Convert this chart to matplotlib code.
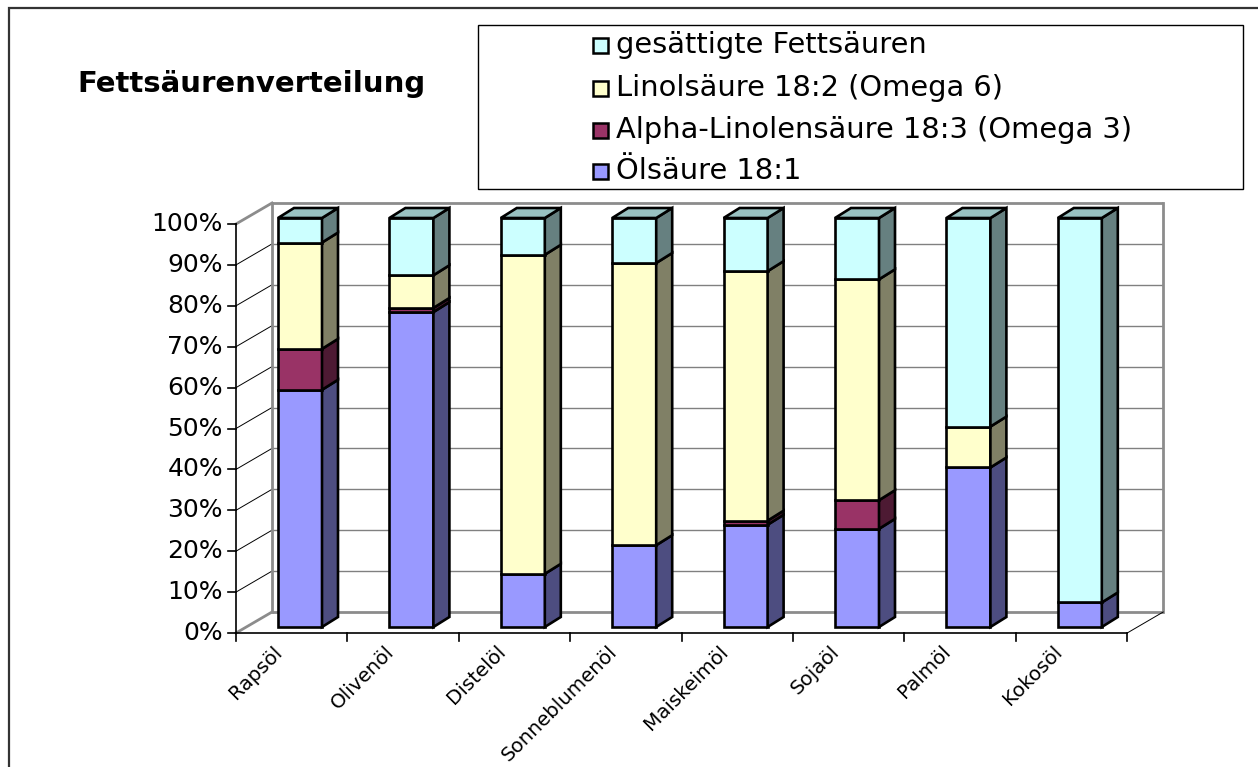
import numpy as np
import matplotlib.pyplot as plt
from matplotlib.patches import Polygon, Rectangle

# Fettsäurenanteile je Öl in Prozent
oele = ['Rapsöl', 'Olivenöl', 'Distelöl', 'Sonneblumenöl',
        'Maiskeimöl', 'Sojaöl', 'Palmöl', 'Kokosöl']
oelsaeure = [58, 77, 13, 20, 25, 24, 39, 6]
alpha_linolen = [10, 1, 0, 0, 1, 7, 0, 0]
linolsaeure = [26, 8, 78, 69, 61, 54, 10, 0]
gesaettigt = [6, 14, 9, 11, 13, 15, 51, 94]

reihen = ['Ölsäure 18:1', 'Alpha-Linolensäure 18:3 (Omega 3)',
          'Linolsäure 18:2 (Omega 6)', 'gesättigte Fettsäuren']
y_ticks = list(range(0, 101, 10))

# Farben: Vorderseite, Seitenfläche, Deckfläche
farben = [('#9999FF', '#4D4D80', '#7373BF'),
          ('#993366', '#4D1A33', '#73264D'),
          ('#FFFFCC', '#808066', '#BFBF99'),
          ('#CCFFFF', '#668080', '#99C2C2')]

W, H = 1258, 767
X0, Y0 = 236, 633          # Ursprung der Achsen in Pixeln
SX, SY = 111.4, 4.09       # Pixel pro Kategorie / pro Prozent

fig = plt.figure(figsize=(W / 100, H / 100), dpi=100)
ax = fig.add_axes([0, 0, 1, 1])
ax.set_xlim(-X0 / SX, (W - X0) / SX)
ax.set_ylim(-(H - Y0) / SY, Y0 / SY)
ax.axis('off')

n = len(oele)
# Tiefe der Bodenfläche und der Säulen (Schrägprojektion)
DX, DY = 36 / SX, 21 / SY
BX, BY = 16 / SX, 10 / SY
bar_off, bar_w, bar_y0 = 42 / SX, 44 / SX, 6 / SY

grau = '#8C8C8C'
kante = 1.9

# Rückwand mit Gitterlinien
for v in y_ticks:
    rand = v in (0, 100)
    ax.plot([DX, n + DX], [v + DY, v + DY], color=grau if rand else '#808080',
            lw=2.0 if rand else 1.0, zorder=1, solid_capstyle='butt')
    # Linien auf der linken Seitenwand
    ax.plot([0, DX], [v, v + DY], color=grau if rand else 'black',
            lw=2.0 if rand else 0.7, zorder=1)
ax.plot([DX, DX], [DY, 100 + DY], color=grau, lw=2.0, zorder=1)
ax.plot([n + DX, n + DX], [DY, 100 + DY], color=grau, lw=2.0, zorder=1)

# Boden: rechte Kante
ax.plot([n, n + DX], [0, DY], color='black', lw=0.7, zorder=1)

# Y-Achse vorne
ax.plot([0, 0], [0, 100], color='black', lw=1.2, zorder=2)
for v in y_ticks:
    ax.plot([-8 / SX, 0], [v, v], color='black', lw=1.2, zorder=2)
    ax.text(-13 / SX, v, f'{v}%', ha='right', va='center', fontsize=18,
            family='DejaVu Sans')

# X-Achse vorne
ax.plot([0, n], [0, 0], color='black', lw=1.2, zorder=2)
for i in range(n + 1):
    ax.plot([i, i], [0, -8 / SY], color='black', lw=1.2, zorder=2)
for i, name in enumerate(oele):
    ax.text(i + 0.5 - 12 / SX, -16 / SY, name, rotation=45, rotation_mode='anchor',
            ha='right', va='center', fontsize=14.3, family='DejaVu Sans')

# Gestapelte 3D-Säulen
werte = np.array([oelsaeure, alpha_linolen, linolsaeure, gesaettigt], dtype=float)
unten = np.zeros(n)
for k in range(len(werte)):
    front, seite, deck = farben[k]
    for i in range(n):
        h = werte[k, i]
        if h <= 0:
            continue
        xl = i + bar_off
        xr = xl + bar_w
        yb = bar_y0 + unten[i]
        yt = yb + h
        ax.bar(xl, h, bottom=yb, width=bar_w, align='edge', color=front,
               edgecolor='black', linewidth=kante, zorder=5)
        ax.add_patch(Polygon([(xr, yb), (xr + BX, yb + BY), (xr + BX, yt + BY), (xr, yt)],
                             closed=True, facecolor=seite, edgecolor='black',
                             linewidth=kante, zorder=5))
        if unten[i] + h >= werte[:, i].sum() - 1e-9:
            ax.add_patch(Polygon([(xl, yt), (xl + BX, yt + BY), (xr + BX, yt + BY), (xr, yt)],
                                 closed=True, facecolor=deck, edgecolor='black',
                                 linewidth=kante, zorder=5))
    unten += werte[k]


def fx(px):
    return px / W


def fy(py):
    return 1 - py / H


# Titel
fig.text(fx(77), fy(84), 'Fettsäurenverteilung', ha='left', va='center',
         fontsize=21, fontweight='bold', family='DejaVu Sans')

# Legende (oberste Reihe zuerst)
fig.patches.append(Rectangle((fx(478), fy(189)), fx(1243) - fx(478), fy(25) - fy(189),
                             transform=fig.transFigure, facecolor='white',
                             edgecolor='black', linewidth=1.0, zorder=3))
leg_y = [45, 88, 130, 171]
for row, k in enumerate(range(len(reihen) - 1, -1, -1)):
    yc = leg_y[row]
    fig.patches.append(Rectangle((fx(593), fy(yc + 8)), fx(15), 15 / H,
                                 transform=fig.transFigure, facecolor=farben[k][0],
                                 edgecolor='black', linewidth=1.8, zorder=4))
    fig.text(fx(616), fy(yc), reihen[k], ha='left', va='center', fontsize=20.8,
             family='DejaVu Sans', zorder=5)

# Rahmen um das Diagramm
fig.patches.append(Rectangle((fx(9), -0.1), 1.2, fy(8) + 0.1, transform=fig.transFigure,
                             facecolor='none', edgecolor='#333333', linewidth=1.6,
                             zorder=10))

fig.savefig('out.png', dpi=100)
